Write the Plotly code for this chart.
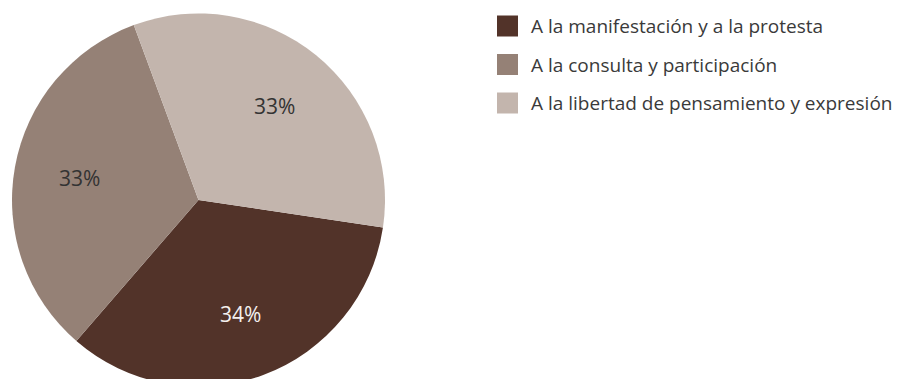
import math
import plotly.graph_objects as go

labels = ["A la manifestación y a la protesta",
          "A la consulta y participación",
          "A la libertad de pensamiento y expresión"]
values = [34, 33, 33]
colors = ["#523329", "#958176", "#c3b5ad"]
text_colors = ["#f4f0ee", "#333333", "#333333"]

W, H = 903, 400
FONT = "Open Sans"
ROT = 98.5
PX0, PX1, PY0, PY1 = 12, 385, 13.5, 386.5  # pie box in px

fig = go.Figure(go.Pie(
    labels=labels, values=values, sort=False, direction="clockwise",
    rotation=ROT, marker=dict(colors=colors, line=dict(width=0)),
    textinfo="none", showlegend=False, hoverinfo="label+percent",
    domain=dict(x=[PX0 / W, PX1 / W], y=[1 - PY1 / H, 1 - PY0 / H]),
))

shapes, annos = [], []

# percentage labels placed along each slice's mid-angle (derived from values)
cx, cy = (PX0 + PX1) / 2, (PY0 + PY1) / 2
r = (PX1 - PX0) / 2
total = sum(values)
ang = ROT
for v, tc in zip(values, text_colors):
    span = 360 * v / total
    mid = math.radians(ang + span / 2)
    lx = cx + 0.65 * r * math.sin(mid)
    ly = cy - 0.65 * r * math.cos(mid)
    annos.append(dict(text=f"{round(100 * v / total)}%", xref="paper", yref="paper",
                      x=lx / W, y=1 - ly / H, xanchor="center", yanchor="middle",
                      showarrow=False, font=dict(family=FONT, size=21, color=tc)))
    ang += span

ys = [26, 64.5, 103]
for lab, col, yc in zip(labels, colors, ys):
    shapes.append(dict(type="rect", xref="paper", yref="paper",
                       x0=497 / W, x1=518 / W, y0=1 - (yc + 10.5) / H, y1=1 - (yc - 10.5) / H,
                       fillcolor=col, line=dict(width=0)))
    annos.append(dict(text=lab, xref="paper", yref="paper", x=529 / W, y=1 - yc / H,
                      xanchor="left", yanchor="middle", showarrow=False,
                      font=dict(family=FONT, size=19, color="#3a3a3a")))

fig.update_layout(width=W, height=H, margin=dict(l=0, r=0, t=0, b=0),
                  paper_bgcolor="white", plot_bgcolor="white",
                  shapes=shapes, annotations=annos)

fig.write_html("out.html", config={"displayModeBar": False},
               post_script="document.documentElement.style.overflow='hidden';document.body.style.overflow='hidden';document.body.style.margin='0';")
